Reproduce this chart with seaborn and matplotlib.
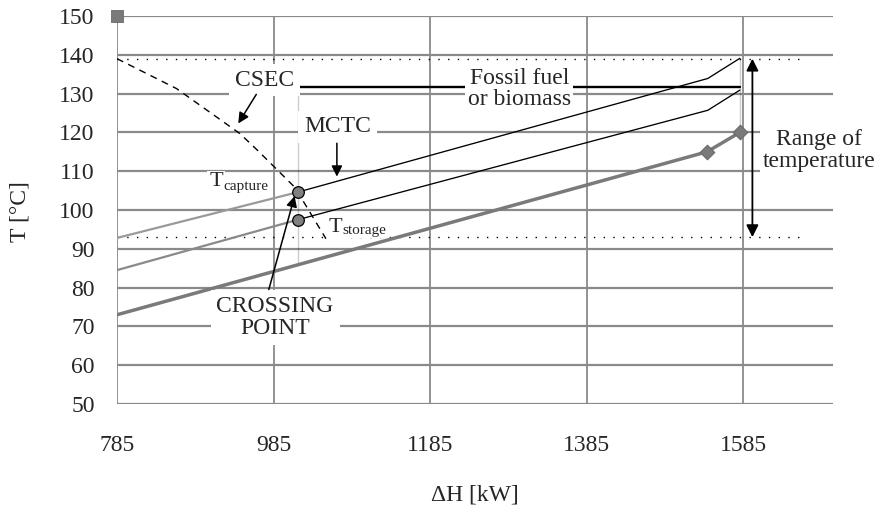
import matplotlib
matplotlib.use("Agg")
import matplotlib.pyplot as plt
import seaborn as sns
import pandas as pd

# ---- data ----
x_ticks = [785, 985, 1185, 1385, 1585]
y_ticks = [50, 60, 70, 80, 90, 100, 110, 120, 130, 140, 150]

cold_x = [785, 1539, 1581]
cold_T = [73.0, 115.0, 120.0]
cold_marker_x = [1539, 1581]
cold_marker_T = [115.0, 120.0]

storage_gray_x = [785, 1016]
storage_gray_T = [84.5, 97.5]
storage_black_x = [1016, 1540, 1581]
storage_black_T = [97.5, 125.7, 130.9]

capture_gray_x = [785, 1016]
capture_gray_T = [92.8, 104.6]
capture_black_x = [1016, 1540, 1581]
capture_black_T = [104.6, 133.9, 139.1]

crossing_x = [1016, 1016]
crossing_T = [104.6, 97.5]

fossil_x = [1016, 1581]
fossil_T = [131.6, 131.6]

csec_x = [785, 861, 942, 965, 1010, 1016, 1052]
csec_T = [139.0, 131.3, 119.7, 115.3, 106.3, 104.6, 92.6]

range_T = [139.0, 93.0]
range_x_end = 1656

corner_x = [785]
corner_T = [150]

# ---- style ----
sns.set_theme(style="white")
plt.rcParams['font.family'] = ['Liberation Serif', 'DejaVu Serif']

GRID = '#8a8a8a'
FS = 17

fig = plt.figure(figsize=(8.84, 5.08), dpi=100)
ax = fig.add_axes([117/884, (508-404)/508, (833-117)/884, (404-16)/508])
ax.set_xlim(785, 1700)
ax.set_ylim(50, 150)

# grid
for yv in y_ticks:
    ax.axhline(yv, color=GRID, lw=1.6, zorder=0.5)
for xv in x_ticks:
    ax.axvline(xv, color=GRID, lw=1.3, zorder=0.5)
for s in ['top', 'right', 'bottom', 'left']:
    ax.spines[s].set_visible(False)

ax.set_xticks(x_ticks)
ax.set_yticks(y_ticks)
ax.set_xticklabels([str(v) for v in x_ticks], fontsize=FS)
ax.set_yticklabels([str(v) for v in y_ticks], fontsize=FS)
ax.tick_params(axis='x', length=0, pad=22)
ax.tick_params(axis='y', length=0, pad=16)

ax.set_xlabel('ΔH [kW]', fontsize=FS, va='center')
ax.xaxis.set_label_coords(0.5, -0.2345)
ax.set_ylabel('T [°C]', fontsize=FS, va='center')
ax.yaxis.set_label_coords(-0.135, 0.495)

# dotted range lines
for t in range_T:
    sns.lineplot(x=[785, range_x_end], y=[t, t], ax=ax, color='black',
                 lw=1.0, linestyle=(0, (1, 6)), zorder=1)
sns.lineplot(x=[crossing_x[0], crossing_x[0]], y=[85.8, fossil_T[0]], ax=ax,
             color='black', lw=1.5, linestyle=(0, (0.8, 0.9)), zorder=1, sort=False)
sns.lineplot(x=[cold_x[-1], cold_x[-1]], y=[cold_T[-1], capture_black_T[-1]], ax=ax,
             color='black', lw=1.5, linestyle=(0, (0.8, 0.9)), zorder=1, sort=False)

# curves
sns.lineplot(x=cold_x, y=cold_T, ax=ax, color='#7a7a7a', lw=2.5, zorder=2,
             sort=False, estimator=None)
sns.lineplot(x=storage_gray_x, y=storage_gray_T, ax=ax, color='#8a8a8a', lw=1.6,
             zorder=2, sort=False, estimator=None)
sns.lineplot(x=capture_gray_x, y=capture_gray_T, ax=ax, color='#9a9a9a', lw=1.6,
             zorder=2, sort=False, estimator=None)
sns.lineplot(x=storage_black_x, y=storage_black_T, ax=ax, color='black', lw=0.95,
             zorder=2, sort=False, estimator=None)
sns.lineplot(x=capture_black_x, y=capture_black_T, ax=ax, color='black', lw=0.95,
             zorder=2, sort=False, estimator=None)
sns.lineplot(x=fossil_x, y=fossil_T, ax=ax, color='black', lw=1.7,
             zorder=2, sort=False, estimator=None)
sns.lineplot(x=csec_x, y=csec_T, ax=ax, color='black', lw=1.0, linestyle=(0, (5, 4)),
             zorder=2, sort=False, estimator=None)

# markers
sns.scatterplot(x=cold_marker_x, y=cold_marker_T, ax=ax, marker='D', s=55,
                color='#7a7a7a', edgecolor='#6a6a6a', linewidth=0.8, zorder=3)
sns.scatterplot(x=crossing_x, y=crossing_T, ax=ax, marker='o', s=70,
                color='#808080', edgecolor='black', linewidth=0.9, zorder=3)
sns.scatterplot(x=corner_x, y=corner_T, ax=ax, marker='s', s=75,
                color='#7a7a7a', edgecolor='#6a6a6a', linewidth=0.6, zorder=3)
for c in ax.collections:
    c.set_clip_on(False)

box = dict(boxstyle='square,pad=0.25', fc='white', ec='none')
tight_box = dict(boxstyle='square,pad=0.08', fc='white', ec='none')
arrow = dict(arrowstyle='-|>', color='black', lw=1.1, mutation_scale=16,
             shrinkA=0, shrinkB=0)

ax.text(974, 133.5, 'CSEC', fontsize=FS, ha='center', va='center', bbox=box, zorder=4)
ax.annotate('', xy=(940, 122.3), xytext=(963, 129.8), arrowprops=arrow, zorder=4)

ax.text(1067, 121.4, 'MCTC', fontsize=FS, ha='center', va='center', bbox=box, zorder=4)
ax.annotate('', xy=(1066, 108.6), xytext=(1066, 117.2), arrowprops=arrow, zorder=4)

# T_capture / T_storage (main letter + subscript)
ax.text(902.7, 106.1, 'T', fontsize=16, ha='left', va='baseline', bbox=tight_box, zorder=4)
ax.text(920.6, 105.2, 'capture', fontsize=11, ha='left', va='baseline', bbox=tight_box,
        zorder=4)
ax.text(1056, 94.3, 'T', fontsize=16, ha='left', va='baseline', bbox=tight_box, zorder=4)
ax.text(1073, 93.9, 'storage', fontsize=11, ha='left', va='baseline', bbox=tight_box,
        zorder=4)

ax.text(987, 72.3, 'CROSSING\nPOINT', fontsize=FS, ha='center', va='center',
        linespacing=1.05, bbox=box, zorder=4)
ax.annotate('', xy=(1012, 103.6), xytext=(979, 79.5), arrowprops=arrow, zorder=4)

ax.text(1299, 131.3, 'Fossil fuel\nor biomass', fontsize=FS, ha='center', va='center',
        linespacing=1.0, bbox=dict(boxstyle='square,pad=0.1', fc='white', ec='none'),
        zorder=4)

ax.annotate('', xy=(1597, range_T[0]), xytext=(1597, range_T[1]),
            arrowprops=dict(arrowstyle='<|-|>', color='black', lw=1.3,
                            mutation_scale=18, shrinkA=0, shrinkB=0), zorder=4)
ax.text(1682, 115.4, 'Range of\ntemperature', fontsize=FS, ha='center', va='center',
        linespacing=1.05, bbox=dict(boxstyle='square,pad=0.1', fc='white', ec='none'),
        zorder=4, clip_on=False)

fig.savefig('out.png', dpi=100)
